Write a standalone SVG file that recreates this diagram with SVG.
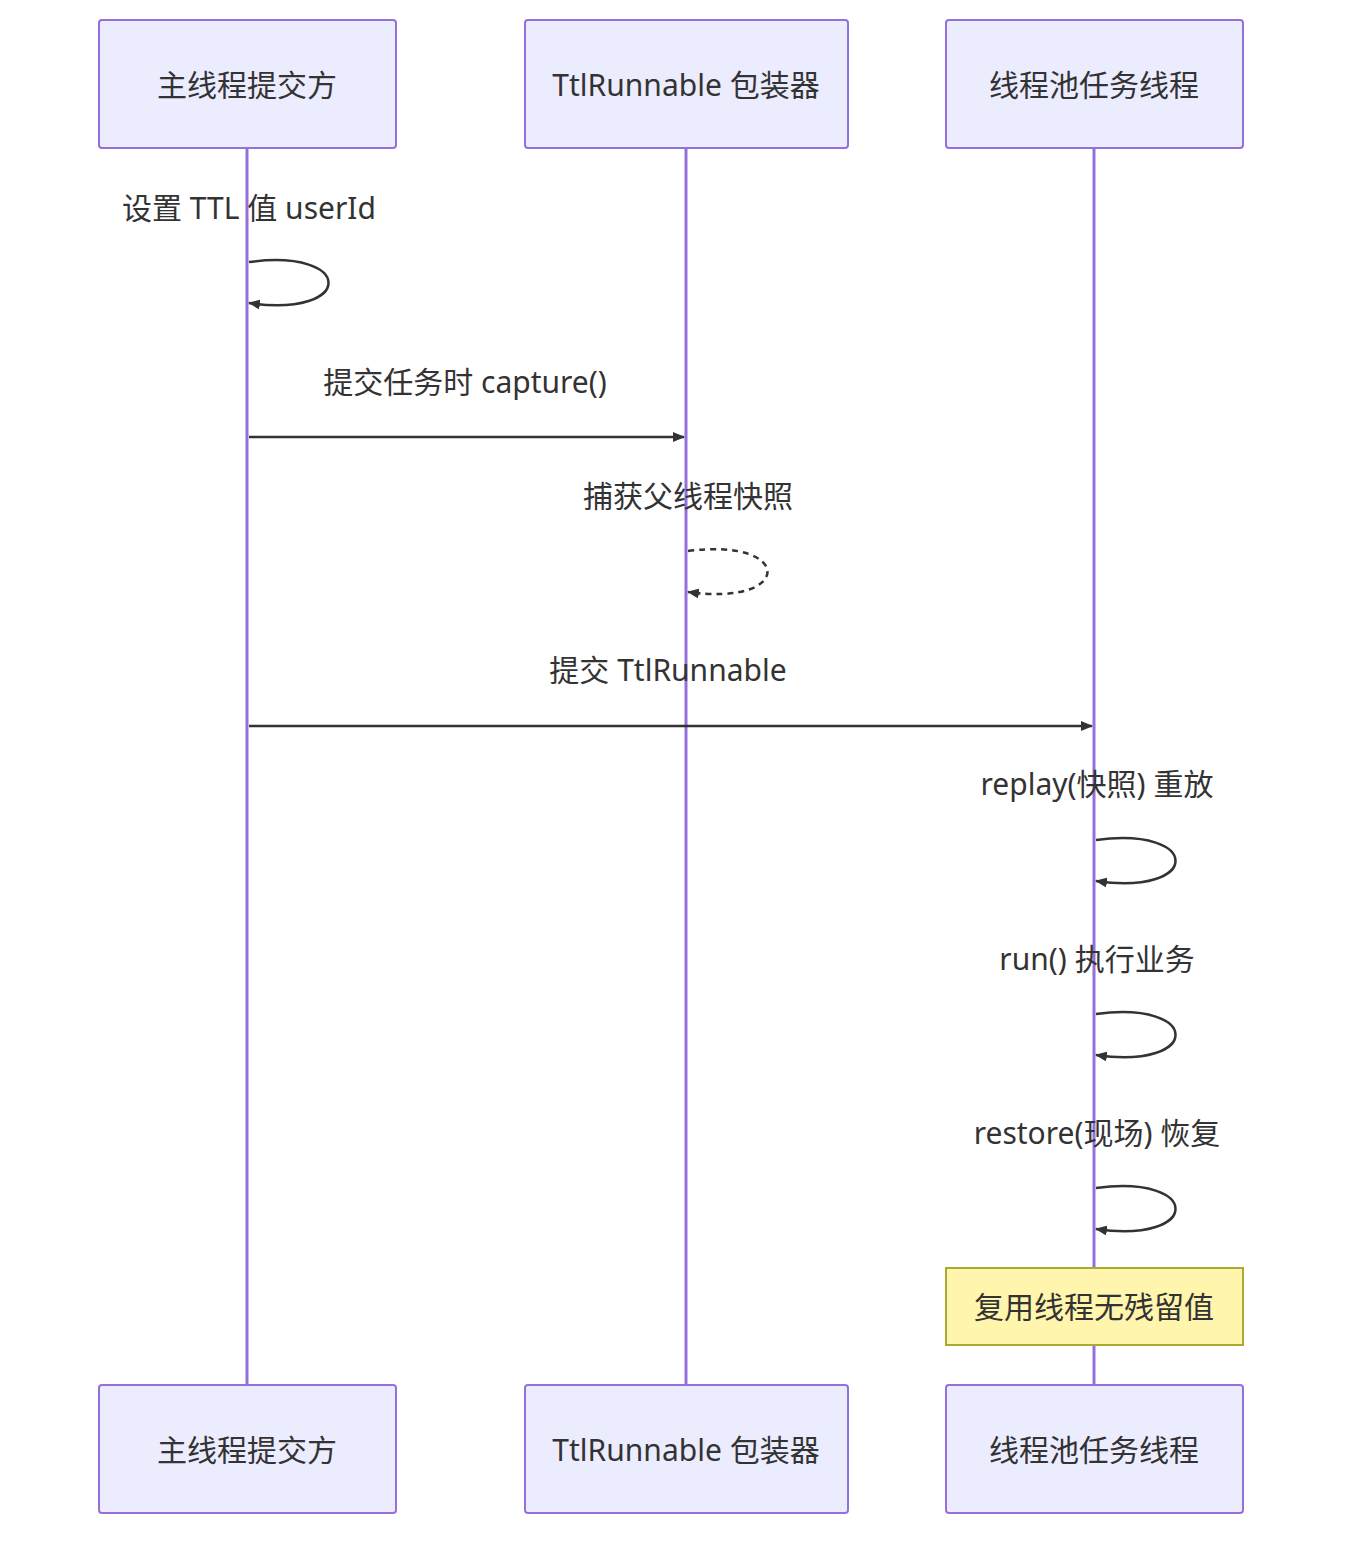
<svg xmlns="http://www.w3.org/2000/svg" width="1360" height="1552" viewBox="0 0 1360 1552">
<style>
.actor{fill:#ECECFF;stroke:#9370DB;stroke-width:2}
.life{stroke:#9370DB;stroke-width:3}
text{font-family:"Noto Sans","Noto Sans CJK SC",sans-serif;font-size:30px;fill:#333;text-anchor:middle;dominant-baseline:central}
.msg{stroke:#333;stroke-width:2.5;fill:none}
</style>
<defs>
<marker id="ah" viewBox="0 0 12 10" refX="11" refY="5" markerWidth="12" markerHeight="10" markerUnits="userSpaceOnUse" orient="auto"><path d="M0,0 L12,5 L0,10 z" fill="#333"/></marker>
</defs>
<g id="lifelines">
<line class="life" x1="247" y1="148" x2="247" y2="1385"/>
<line class="life" x1="686" y1="148" x2="686" y2="1385"/>
<line class="life" x1="1094" y1="148" x2="1094" y2="1385"/>
</g>
<g id="actor-main-top"><rect class="actor" x="99" y="20" width="297" height="128" rx="3"/><text x="247" y="84">主线程提交方</text></g>
<g id="actor-ttl-top"><rect class="actor" x="525" y="20" width="323" height="128" rx="3"/><text x="686" y="84">TtlRunnable 包装器</text></g>
<g id="actor-pool-top"><rect class="actor" x="946" y="20" width="297" height="128" rx="3"/><text x="1094" y="84">线程池任务线程</text></g>
<g id="actor-main-bottom"><rect class="actor" x="99" y="1385" width="297" height="128" rx="3"/><text x="247" y="1449">主线程提交方</text></g>
<g id="actor-ttl-bottom"><rect class="actor" x="525" y="1385" width="323" height="128" rx="3"/><text x="686" y="1449">TtlRunnable 包装器</text></g>
<g id="actor-pool-bottom"><rect class="actor" x="946" y="1385" width="297" height="128" rx="3"/><text x="1094" y="1449">线程池任务线程</text></g>
<g id="note"><rect x="946" y="1268" width="297" height="77" fill="#fff5ad" stroke="#aaaa33" stroke-width="2"/><text x="1094" y="1306">复用线程无残留值</text></g>
<g id="connectors">
<text x="249" y="207">设置 TTL 值 userId</text>
<path class="msg" d="M249,262 C355,248 355,318 249,303" marker-end="url(#ah)"/>
<text x="465" y="381">提交任务时 capture()</text>
<line class="msg" x1="249" y1="437" x2="684" y2="437" marker-end="url(#ah)"/>
<text x="688" y="495">捕获父线程快照</text>
<path class="msg" d="M688,551 C794,537 794,607 688,592" stroke-dasharray="6,5" marker-end="url(#ah)"/>
<text x="668" y="669">提交 TtlRunnable</text>
<line class="msg" x1="249" y1="726" x2="1092" y2="726" marker-end="url(#ah)"/>
<text x="1097" y="783">replay(快照) 重放</text>
<path class="msg" d="M1096,840 C1202,826 1202,896 1096,881" marker-end="url(#ah)"/>
<text x="1097" y="958">run() 执行业务</text>
<path class="msg" d="M1096,1014 C1202,1000 1202,1070 1096,1055" marker-end="url(#ah)"/>
<text x="1097" y="1132">restore(现场) 恢复</text>
<path class="msg" d="M1096,1188 C1202,1174 1202,1244 1096,1229" marker-end="url(#ah)"/>
</g>
</svg>
